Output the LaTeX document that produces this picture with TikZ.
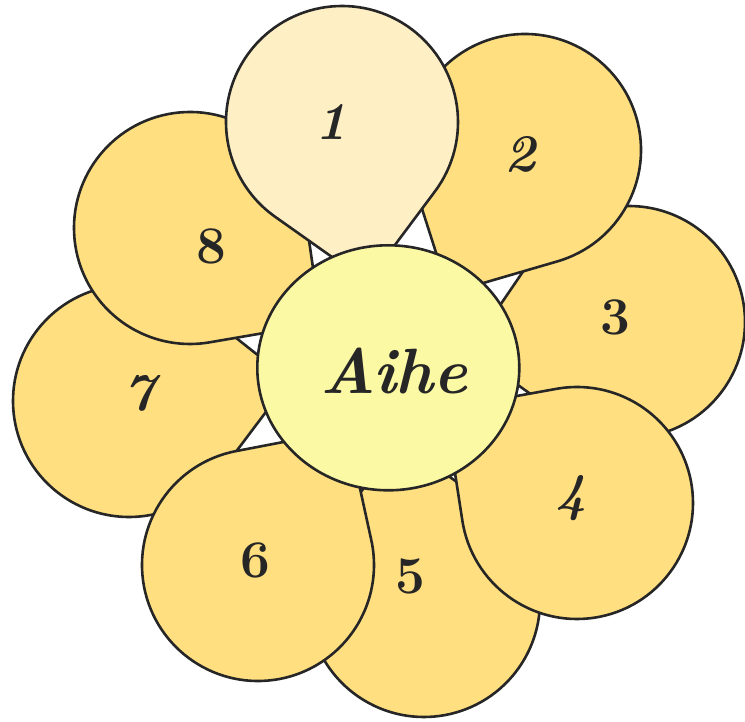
\documentclass[tikz,border=0pt]{standalone}
\usetikzlibrary{calc,shapes.geometric}
\definecolor{petalc}{HTML}{FFDF80}
\definecolor{petalone}{HTML}{FFEFC5}
\definecolor{centerc}{HTML}{FCF9A5}
\definecolor{ink}{HTML}{262626}
\tikzset{
  petal/.style={draw=ink, line width=2.6pt, line join=round},
  lbl/.style={text=ink, inner sep=0pt, font=\fontsize{53}{53}\selectfont\bfseries},
  lblscript/.style={text=ink, inner sep=0pt, font=\fontsize{53}{53}\selectfont\bfseries\itshape},
  hub/.style={ellipse, draw=ink, line width=2.6pt, fill=centerc, inner sep=0pt, minimum width=262pt, minimum height=245pt}
}
% #1 x, #2 y (from top), #3 angle from circle centre to tip, #4 fill
\newcommand{\drawpetal}[4]{%
  \draw[petal, fill=#4] ($({#1},{721-#2})+({#3}:162)$) -- ($({#1},{721-#2})+({#3+44.1}:116)$)
    arc[start angle={#3+44.1}, end angle={#3+315.9}, radius=116] -- cycle;}
\begin{document}
\begin{tikzpicture}[x=1pt,y=1pt]
\useasboundingbox (0,0) rectangle (745,721);
% lowest layer
\drawpetal{629}{322}{190}{petalc}
\drawpetal{424}{601}{98.8}{petalc}
\drawpetal{129}{401}{7.3}{petalc}
% middle layer
\drawpetal{525}{150}{-118}{petalc}
\drawpetal{577}{503}{144.5}{petalc}
\drawpetal{258}{565}{56.6}{petalc}
\drawpetal{190}{228}{-36}{petalc}
% top petal
\drawpetal{342}{122}{-81}{petalone}
% centre
\node[hub] (hubnode) at (388.3,{721-367.8}) {};
\node[text=ink, inner sep=0pt, font=\fontsize{64}{64}\selectfont\bfseries\itshape] (aihe) at (394,{721-371}) {Aihe};
% labels
\node[lblscript] (n1) at (331,{721-122}) {1};
\node[lblscript] (n2) at (520,{721-154}) {2};
\node[lbl] (n3) at (615,{721-317}) {3};
\node[lblscript] (n4) at (571,{721-498}) {4};
\node[lbl] (n5) at (410,{721-576}) {5};
\node[lbl] (n6) at (255,{721-560}) {6};
\node[lblscript] (n7) at (139,{721-393}) {7};
\node[lbl] (n8) at (211,{721-246}) {8};
\end{tikzpicture}
\end{document}
